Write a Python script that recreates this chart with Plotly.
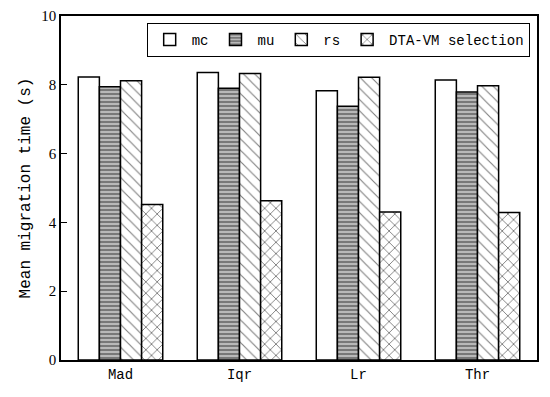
import plotly.graph_objects as go

categories = ["Mad", "Iqr", "Lr", "Thr"]
mc = [8.23, 8.36, 7.83, 8.14]
mu = [7.94, 7.90, 7.38, 7.79]
rs = [8.12, 8.33, 8.22, 7.97]
dta = [4.52, 4.63, 4.30, 4.29]

series = [
    ("mc", mc, "", "white", 8, 0.2),
    ("mu", mu, "-", "#b8b8b8", 4, 0.35),
    ("rs", rs, "\\", "white", 8, 0.14),
    ("DTA-VM selection", dta, "x", "white", 8, 0.22),
]

fig = go.Figure()
for name, vals, shape, bg, psize, sol in series:
    fig.add_trace(go.Bar(
        x=categories, y=vals, name=name,
        marker=dict(
            color=bg,
            line=dict(color="black", width=1.5),
            pattern=dict(shape=shape, fgcolor="black", bgcolor=bg,
                         size=psize, solidity=sol, fillmode="overlay"),
        ),
    ))

font_fam = "Liberation Mono, DejaVu Sans Mono, monospace"
fig.update_layout(
    width=550, height=397,
    margin=dict(l=53, r=21, t=8, b=45),
    plot_bgcolor="white", paper_bgcolor="white",
    barmode="group", bargap=0.29, bargroupgap=0,
    font=dict(family=font_fam, size=14, color="black"),
    showlegend=True,
    legend=dict(orientation="h", x=0.18, y=0.98, xanchor="left", yanchor="top",
                bordercolor="black", borderwidth=1, bgcolor="white",
                font=dict(size=14), itemwidth=34),
    xaxis=dict(showline=True, linecolor="black", linewidth=1.5, mirror=True,
               ticks="", tickfont=dict(size=14), automargin=False),
    yaxis=dict(range=[0, 10], dtick=2, showline=True, linecolor="black",
               linewidth=1.5, mirror=True, ticks="inside", ticklen=6,
               tickcolor="black", showgrid=False, zeroline=False, automargin=False,
               tickfont=dict(family="Liberation Serif, serif", size=15),
               title=dict(text="Mean migration time (s)", font=dict(size=16), standoff=7)),
)

fig.write_html("out.html")
